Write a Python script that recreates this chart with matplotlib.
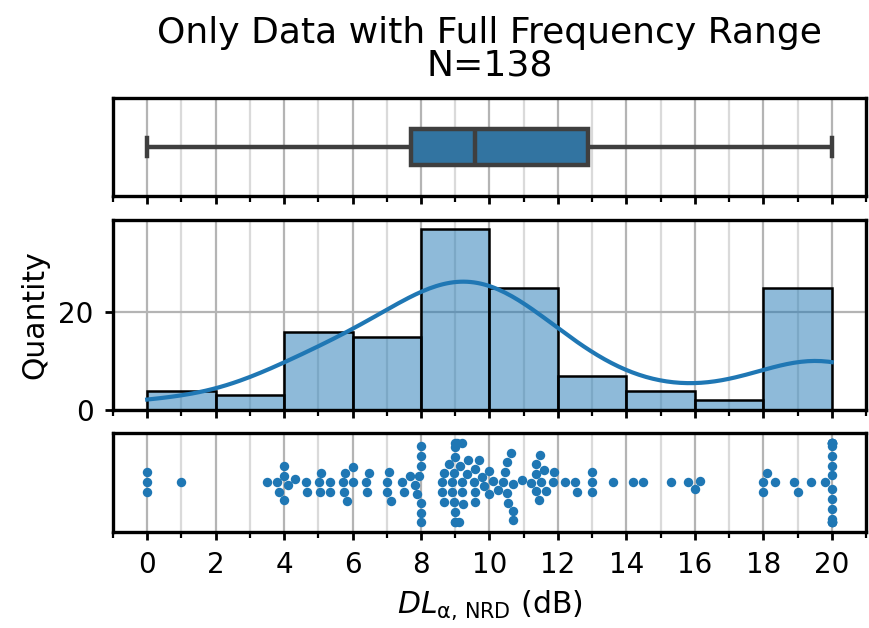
import numpy as np
import matplotlib
matplotlib.use("Agg")
import matplotlib.pyplot as plt
from matplotlib.ticker import MultipleLocator
import seaborn as sns

dl_0_2 = [0.0, 0.0, 0.0, 1.0]
dl_2_4 = [3.5, 3.78, 3.85]
dl_4_6 = [4.0, 4.0, 4.0, 4.11, 4.31, 4.64, 4.67, 5.01, 5.05, 5.07, 5.33, 5.35,
          5.72, 5.76, 5.77, 5.85]
dl_6_8 = [6.0, 6.0, 6.4, 6.43, 6.48, 7.02, 7.02, 7.06, 7.13, 7.45, 7.5, 7.67,
          7.82, 7.87, 7.95]
dl_8_10 = [8.0, 8.0, 8.0, 8.0, 8.0, 8.0, 8.61, 8.61, 8.66, 8.66, 8.81,
           8.9, 8.92, 8.95, 8.97, 9.0, 9.0, 9.0, 9.0, 9.0, 9.0, 9.05, 9.1,
           9.14, 9.21, 9.21, 9.21, 9.24, 9.34, 9.37,
           9.56, 9.59, 9.59, 9.59, 9.68, 9.78, 9.85]
dl_10_12 = [10.0, 10.0, 10.09, 10.24, 10.41, 10.44, 10.5, 10.5, 10.53, 10.63,
            10.68, 10.7, 10.7, 10.94, 11.21, 11.35, 11.35, 11.36, 11.45, 11.48,
            11.5, 11.6, 11.64, 11.86, 11.89]
dl_12_14 = [12.22, 12.5, 12.55, 13.0, 13.0, 13.0, 13.6]
dl_14_16 = [14.2, 14.5, 15.3, 15.8]
dl_16_18 = [16.0, 16.15]
dl_18_20 = [18.0, 18.0, 18.1, 18.35, 18.9, 19.0, 19.4, 19.8,
            20.0, 20.0, 20.0, 20.0, 20.0, 20.0, 20.0, 20.0, 20.0,
            20.0, 20.0, 20.0, 20.0, 20.0, 20.0, 20.0, 20.0]

dl = np.array(dl_0_2 + dl_2_4 + dl_4_6 + dl_6_8 + dl_8_10 + dl_10_12
              + dl_12_14 + dl_14_16 + dl_16_18 + dl_18_20)

bin_edges = [0, 2, 4, 6, 8, 10, 12, 14, 16, 18, 20]
title = f"Only Data with Full Frequency Range\nN={len(dl)}"
xlabel = r"$DL_{\mathrm{\alpha,\,NRD}}$ (dB)"
ylabel = "Quantity"

blue = "#1f77b4"
plt.rcParams['font.family'] = ['DejaVu Sans']

fig = plt.figure(figsize=(8.69, 6.28), dpi=100)
left, width = 0.130, 0.8665
ax_box = fig.add_axes([left, 0.688, width, 0.156])
ax_hist = fig.add_axes([left, 0.347, width, 0.3025], sharex=ax_box)
ax_swarm = fig.add_axes([left, 0.153, width, 0.158], sharex=ax_box)

sns.boxplot(x=dl, ax=ax_box, width=0.36, color=blue, linewidth=3.2,
            linecolor="#3f3f3f")
sns.histplot(dl, bins=bin_edges, kde=True, ax=ax_hist, color=blue,
             edgecolor="black", linewidth=1.8, alpha=0.5,
             line_kws={"linewidth": 3})
sns.swarmplot(x=dl, ax=ax_swarm, size=6.8, color=blue)

for ax in (ax_box, ax_hist, ax_swarm):
    ax.set_xlim(-1, 21)
    ax.xaxis.set_major_locator(MultipleLocator(2))
    ax.xaxis.set_minor_locator(MultipleLocator(1))
    ax.set_axisbelow(True)
    ax.grid(True, which="major", axis="x", color="#b4b4b4", linewidth=1.6)
    ax.grid(True, which="minor", axis="x", color="#dadada", linewidth=1.6)
    for s in ax.spines.values():
        s.set_linewidth(2.4)
        s.set_color("black")
    ax.tick_params(axis="both", which="major", length=6, width=2, pad=8,
                   labelsize=20, color="black")
    ax.tick_params(axis="x", which="minor", length=4.5, width=1.6)
    ax.set_xlabel("")

for ax in (ax_box, ax_swarm):
    ax.set_yticks([])
    ax.set_ylabel("")
    ax.grid(False, axis="y")

for ax in (ax_box, ax_hist):
    ax.tick_params(axis="x", which="both", labelbottom=False)

ax_hist.yaxis.set_major_locator(MultipleLocator(20))
ax_hist.grid(True, which="major", axis="y", color="#b4b4b4", linewidth=1.6)
ax_hist.set_ylabel(ylabel, fontsize=21.5, labelpad=6)

ax_swarm.set_xlabel(xlabel, fontsize=21.5, labelpad=7)
ax_box.set_title(title, fontsize=26, pad=16, linespacing=0.95)

fig.savefig("out.png", dpi=100)
